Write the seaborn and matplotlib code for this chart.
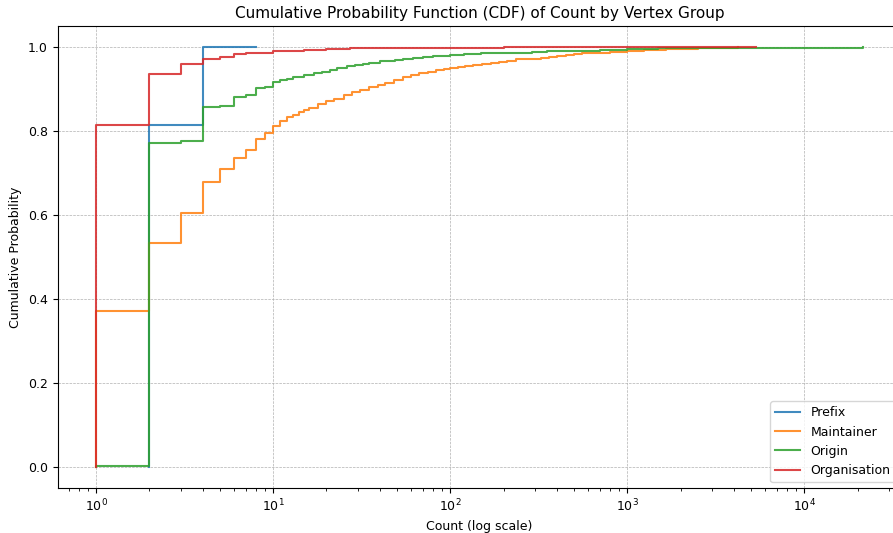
import numpy as np
import matplotlib
matplotlib.use("Agg")
import matplotlib.pyplot as plt
import seaborn as sns

# CDF values for each vertex group (count -> cumulative probability)
group_names = ["Prefix", "Maintainer", "Origin", "Organisation"]

prefix_counts = [2, 4, 8]
prefix_cdf = [0.815, 0.9995, 1.0]

maintainer_counts = [1, 2, 3, 4, 5, 6, 7, 8, 9, 10, 11, 12, 13, 14, 15, 16, 18, 20, 22, 25,
                     28, 31, 35, 39, 43, 48, 54, 60, 67, 75, 83, 92, 100, 110, 122, 135,
                     152, 170, 189, 210, 234, 260, 290, 325, 361, 400, 448, 500, 556, 620,
                     690, 800, 1000, 1250, 1650, 2000, 2500, 3200, 4200]
maintainer_cdf = [0.372, 0.535, 0.606, 0.678, 0.709, 0.737, 0.755, 0.781, 0.796, 0.812,
                  0.824, 0.833, 0.839, 0.845, 0.850, 0.856, 0.865, 0.871, 0.877, 0.885,
                  0.893, 0.899, 0.905, 0.910, 0.915, 0.921, 0.928, 0.934, 0.939, 0.942,
                  0.945, 0.948, 0.951, 0.953, 0.956, 0.958, 0.961, 0.963, 0.965, 0.968,
                  0.971, 0.972, 0.973, 0.975, 0.977, 0.979, 0.981, 0.983, 0.985, 0.986,
                  0.987, 0.989, 0.991, 0.993, 0.995, 0.996, 0.997, 0.998, 1.0]

origin_counts = [1, 2, 3, 4, 5, 6, 7, 8, 9, 10, 11, 12, 13, 15, 17, 19, 21, 23, 26, 29,
                 32, 35, 40, 44, 49, 54, 62, 70, 80, 90, 100, 120, 150, 190, 234, 290, 350,
                 450, 556, 700, 1000, 1500, 2500, 21500]
origin_cdf = [0.003, 0.771, 0.777, 0.858, 0.861, 0.882, 0.886, 0.902, 0.905, 0.917, 0.921,
              0.924, 0.928, 0.933, 0.938, 0.942, 0.946, 0.950, 0.954, 0.957, 0.960, 0.963,
              0.966, 0.968, 0.970, 0.972, 0.974, 0.976, 0.978, 0.980, 0.982, 0.984, 0.985,
              0.986, 0.987, 0.989, 0.990, 0.991, 0.992, 0.993, 0.995, 0.997, 0.999, 1.0]

organisation_counts = [1, 2, 3, 4, 5, 6, 7, 8, 10, 12, 15, 20, 27, 40, 60, 100, 200, 400,
                       1000, 5330]
organisation_cdf = [0.814, 0.937, 0.961, 0.971, 0.977, 0.983, 0.985, 0.987, 0.991, 0.992,
                    0.994, 0.995, 0.997, 0.998, 0.9985, 0.999, 0.9993, 0.9995, 0.9997, 1.0]

groups = {
    "Prefix": (prefix_counts, prefix_cdf),
    "Maintainer": (maintainer_counts, maintainer_cdf),
    "Origin": (origin_counts, origin_cdf),
    "Organisation": (organisation_counts, organisation_cdf),
}


def plot_cdf():
    plt.rcParams["font.size"] = 9
    fig = plt.figure(figsize=(8.93, 5.33), dpi=100)
    # axes run slightly past the right edge, as in the cropped original
    ax = fig.add_axes([0.0646, 0.0839, 0.945, 0.867])

    for name in group_names:
        counts, cdf = groups[name]
        # probability mass of each count = step height of the CDF
        weights = np.diff(np.concatenate([[0.0], cdf]))
        sns.ecdfplot(x=counts, weights=weights, log_scale=True, label=name,
                     alpha=0.85, ax=ax)

    ax.set_ylim(-0.05, 1.05)
    ax.set_title("Cumulative Probability Function (CDF) of Count by Vertex Group",
                 fontsize=11)
    ax.set_xlabel("Count (log scale)")
    ax.set_ylabel("Cumulative Probability")
    ax.grid(True, which="major", linestyle="--", linewidth=0.5)
    ax.legend(loc="lower right")

    fig.savefig("out.png", dpi=100)
    plt.close(fig)


if __name__ == "__main__":
    plot_cdf()
